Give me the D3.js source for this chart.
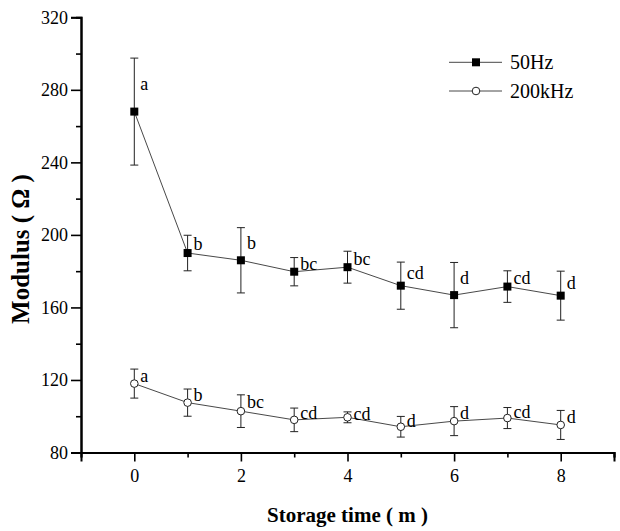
<!DOCTYPE html>
<html>
<head>
<meta charset="utf-8">
<script src="https://cdn.jsdelivr.net/npm/d3@7"></script>
<style>
  html, body { margin: 0; padding: 0; background: #fff; }
  svg { display: block; }
  text { font-family: "Liberation Serif", "Times New Roman", serif; fill: #000; }
</style>
</head>
<body>
<script>
// ---- data ----
const storageTime = [0, 1, 2, 3, 4, 5, 6, 7, 8];
const hz50Mean  = [268, 190, 186, 179.7, 182.2, 172, 166.8, 171.5, 166.5];
const hz50Sd    = [29.5, 9.8, 18, 7.8, 8.8, 13, 18, 8.7, 13.5];
const hz50Labels = ["a", "b", "b", "bc", "bc", "cd", "d", "cd", "d"];
const khz200Mean = [118, 107.5, 102.8, 98, 99.4, 94.2, 97.3, 99, 95.2];
const khz200Sd   = [8, 7.5, 9, 6.5, 3, 5.7, 8, 5.8, 8];
const khz200Labels = ["a", "b", "bc", "cd", "cd", "d", "d", "cd", "d"];
const xMajorTicks = [0, 2, 4, 6, 8];
const xMinorTicks = [-1, 1, 3, 5, 7, 9];
const yMajorTicks = [80, 120, 160, 200, 240, 280, 320];
const yMinorTicks = [100, 140, 180, 220, 260, 300];
const seriesNames = ["50Hz", "200kHz"];

// ---- layout ----
const W = 620, H = 531;
const mLeft = 81, mRight = 614, mTop = 17.3, mBottom = 452.5;

const svg = d3.select("body").append("svg").attr("width", W).attr("height", H);

const x = d3.scaleLinear().domain([-1, 9]).range([mLeft, mRight]);
const y = d3.scaleLinear().domain([80, 320]).range([mBottom, mTop]);

// axes
const xAxisMajor = d3.axisBottom(x).tickValues(xMajorTicks).tickSize(9).tickPadding(8).tickFormat(d3.format("d"));
const xAxisMinor = d3.axisBottom(x).tickValues(xMinorTicks).tickSize(5).tickFormat("");
const yAxisMajor = d3.axisLeft(y).tickValues(yMajorTicks).tickSize(10).tickPadding(3).tickFormat(d3.format("d"));
const yAxisMinor = d3.axisLeft(y).tickValues(yMinorTicks).tickSize(5).tickFormat("");

function styleAxis(g) {
  g.selectAll(".domain").attr("stroke", "#000").attr("stroke-width", 2);
  g.selectAll(".tick line").attr("stroke", "#000").attr("stroke-width", 1.6);
  g.selectAll(".tick text").style("font-family", '"Liberation Serif", serif').style("font-size", "18px").attr("fill", "#000");
}

svg.append("g").attr("transform", `translate(0,${mBottom})`).call(xAxisMinor).call(styleAxis);
svg.append("g").attr("transform", `translate(0,${mBottom})`).call(xAxisMajor).call(styleAxis);
svg.append("g").attr("transform", `translate(${mLeft},0)`).call(yAxisMinor).call(styleAxis);
svg.append("g").attr("transform", `translate(${mLeft},0)`).call(yAxisMajor).call(styleAxis);

// axis titles
svg.append("text")
  .attr("x", (mLeft + mRight) / 2).attr("y", 522)
  .attr("text-anchor", "middle")
  .style("font-size", "21px").style("font-weight", "bold")
  .text("Storage time ( m )");

svg.append("text")
  .attr("transform", `translate(29,249) rotate(-90)`)
  .attr("text-anchor", "middle")
  .style("font-size", "25px").style("font-weight", "bold")
  .text("Modulus ( Ω )");

// series
const series = [
  { name: seriesNames[0], mean: hz50Mean, sd: hz50Sd, labels: hz50Labels, marker: "square" },
  { name: seriesNames[1], mean: khz200Mean, sd: khz200Sd, labels: khz200Labels, marker: "circle" }
];

const line = d3.line().x(d => x(d.t)).y(d => y(d.m));

series.forEach(s => {
  const pts = storageTime.map((t, i) => ({ t, m: s.mean[i], sd: s.sd[i], lab: s.labels[i] }));
  const g = svg.append("g");
  g.append("path").datum(pts).attr("d", line)
    .attr("fill", "none").attr("stroke", "#333").attr("stroke-width", 0.9);

  // error bars
  const eb = g.selectAll(".eb").data(pts).enter().append("g");
  eb.append("line").attr("x1", d => x(d.t)).attr("x2", d => x(d.t))
    .attr("y1", d => y(d.m + d.sd)).attr("y2", d => y(d.m - d.sd))
    .attr("stroke", "#222").attr("stroke-width", 1);
  eb.append("line").attr("x1", d => x(d.t) - 4).attr("x2", d => x(d.t) + 4)
    .attr("y1", d => y(d.m + d.sd)).attr("y2", d => y(d.m + d.sd))
    .attr("stroke", "#222").attr("stroke-width", 1);
  eb.append("line").attr("x1", d => x(d.t) - 4).attr("x2", d => x(d.t) + 4)
    .attr("y1", d => y(d.m - d.sd)).attr("y2", d => y(d.m - d.sd))
    .attr("stroke", "#222").attr("stroke-width", 1);

  // markers
  if (s.marker === "square") {
    g.selectAll(".mk").data(pts).enter().append("rect")
      .attr("x", d => x(d.t) - 4).attr("y", d => y(d.m) - 4)
      .attr("width", 8).attr("height", 8).attr("fill", "#000");
  } else {
    g.selectAll(".mk").data(pts).enter().append("circle")
      .attr("cx", d => x(d.t)).attr("cy", d => y(d.m)).attr("r", 3.8)
      .attr("fill", "#fff").attr("stroke", "#222").attr("stroke-width", 1);
  }

  // significance letters
  g.selectAll(".lab").data(pts).enter().append("text")
    .attr("x", d => x(d.t) + 6).attr("y", d => y(d.m + d.sd / 2))
    .attr("dy", "0.3em")
    .style("font-size", "18px")
    .text(d => d.lab);
});

// legend
const legY = [62.3, 91];
series.forEach((s, i) => {
  const lg = svg.append("g");
  lg.append("line").attr("x1", 449).attr("x2", 502).attr("y1", legY[i]).attr("y2", legY[i])
    .attr("stroke", "#333").attr("stroke-width", 0.9);
  if (s.marker === "square") {
    lg.append("rect").attr("x", 476 - 4).attr("y", legY[i] - 4).attr("width", 8).attr("height", 8).attr("fill", "#000");
  } else {
    lg.append("circle").attr("cx", 476).attr("cy", legY[i]).attr("r", 3.8)
      .attr("fill", "#fff").attr("stroke", "#222").attr("stroke-width", 1);
  }
  lg.append("text").attr("x", 510).attr("y", legY[i]).attr("dy", "0.33em")
    .style("font-size", "20px").text(s.name);
});
</script>
</body>
</html>
